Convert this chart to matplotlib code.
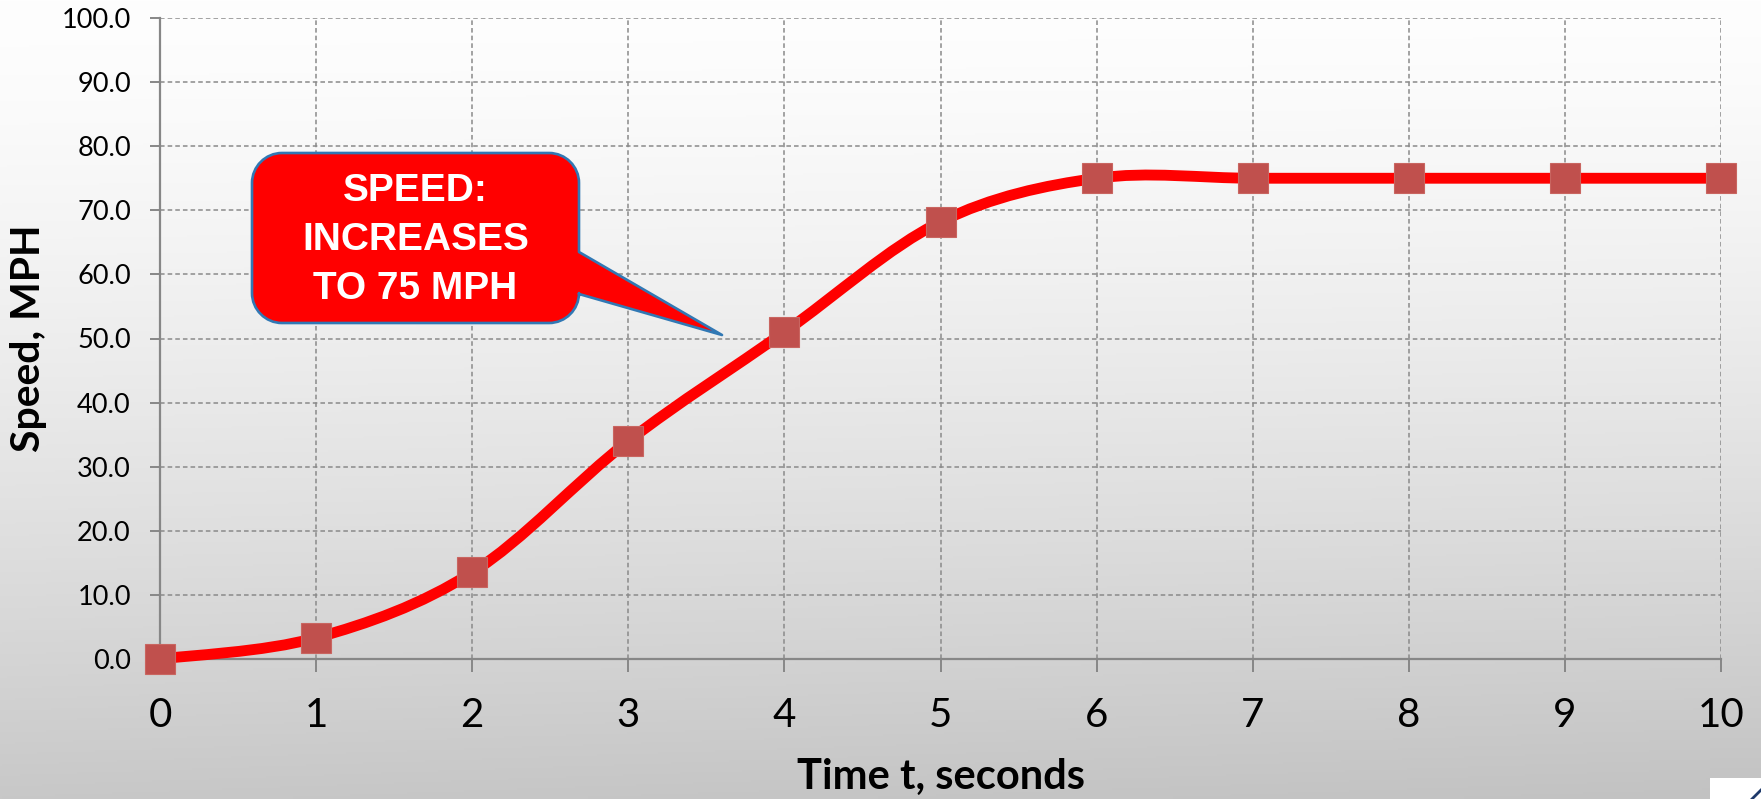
import numpy as np
import matplotlib
matplotlib.use("Agg")
import matplotlib.pyplot as plt
from matplotlib.path import Path
from matplotlib.patches import PathPatch, Rectangle
from matplotlib.transforms import Affine2D

# ---- data ----
time_s = [0, 1, 2, 3, 4, 5, 6, 7, 8, 9, 10]
speed_mph = [0.0, 3.3, 13.5, 34.0, 51.0, 68.2, 75.0, 75.0, 75.0, 75.0, 75.0]
x_ticks = [0, 1, 2, 3, 4, 5, 6, 7, 8, 9, 10]
y_ticks = [0, 10, 20, 30, 40, 50, 60, 70, 80, 90, 100]
x_label = "Time t, seconds"
y_label = "Speed, MPH"
callout_text = "SPEED:\nINCREASES\nTO 75 MPH"

W, H = 1761, 799
fig = plt.figure(figsize=(W / 100, H / 100), dpi=100)

# background gradient
bg = fig.add_axes([0, 0, 1, 1], zorder=-10)
yy = np.linspace(0, 1, 400)[:, None]
xx = np.linspace(0, 1, 400)[None, :]
val = 254 - 54 * (yy ** 1.4) - 6 * xx * yy
bg.imshow(np.dstack([val, val, val]).astype(np.uint8), aspect="auto",
          extent=[0, 1, 0, 1], origin="upper")
bg.axis("off")

ax = fig.add_axes([160 / W, 1 - 659 / H, (1721 - 160) / W, (659 - 18) / H])
ax.patch.set_alpha(0)

ax.set_xlim(0, 10)
ax.set_ylim(0, 100)
ax.set_xticks(x_ticks)
ax.set_yticks(y_ticks)
ax.set_yticklabels([f"{v:.1f}" for v in y_ticks])

gridc = "#8a8a8a"
ax.grid(True, color=gridc, linestyle=(0, (3, 2)), linewidth=1.1, zorder=0)
ax.set_axisbelow(True)
for s in ["top", "right"]:
    ax.spines[s].set_visible(False)
for s in ["left", "bottom"]:
    ax.spines[s].set_color("#878787")
    ax.spines[s].set_linewidth(1.6)

ax.tick_params(axis="x", length=9.5, width=1.4, color="#878787",
               labelsize=29, pad=18, direction="out")
ax.tick_params(axis="y", length=7, width=1.4, color="#878787",
               labelsize=19.5, pad=14, direction="out")
for lab in ax.get_xticklabels() + ax.get_yticklabels():
    lab.set_fontfamily("Lato")

fig.text(941 / W, 1 - 777 / H, x_label, ha="center", va="center",
         fontsize=30, fontweight="bold", family="Lato")
fig.text(29 / W, 1 - 338 / H, y_label, ha="center", va="center", rotation=90,
         fontsize=29.5, fontweight="bold", family="Lato")

# smoothed line (cubic Bezier segments through data points)
P = np.column_stack([time_s, speed_mph]).astype(float)
n = len(P)
verts = [P[0]]
codes = [Path.MOVETO]
for i in range(n - 1):
    p0 = P[i - 1] if i > 0 else P[i]
    p1 = P[i]
    p2 = P[i + 1]
    p3 = P[i + 2] if i + 2 < n else P[i + 1]
    c1 = p1 + (p2 - p0) / 6.0
    c2 = p2 - (p3 - p1) / 6.0
    verts += [c1, c2, p2]
    codes += [Path.CURVE4] * 3
ax.add_patch(PathPatch(Path(verts, codes), fill=False, edgecolor="#ff0000",
                       lw=7.8, capstyle="round", joinstyle="round", zorder=3,
                       clip_on=False))
ax.plot(time_s, speed_mph, linestyle="none", marker="s", markersize=21.5,
        markerfacecolor="#c0504d", markeredgecolor="#c96560", markeredgewidth=0.8,
        zorder=4, clip_on=False)

# callout (pixel coordinates of the image, y downward)
pix = Affine2D().scale(1 / W, -1 / H).translate(0, 1) + fig.transFigure
L, R, T, B, r = 252, 579, 153, 323, 30
k = 0.5523 * r
yb1, yb2 = 252, 294
tip = (722, 335)
cv = [
    (L + r, T), (R - r, T),
    (R - r + k, T), (R, T + r - k), (R, T + r),
    (R, yb1), tip, (R, yb2),
    (R, B - r),
    (R, B - r + k), (R - r + k, B), (R - r, B),
    (L + r, B),
    (L + r - k, B), (L, B - r + k), (L, B - r),
    (L, T + r),
    (L, T + r - k), (L + r - k, T), (L + r, T),
    (L + r, T),
]
cc = [Path.MOVETO, Path.LINETO,
      Path.CURVE4, Path.CURVE4, Path.CURVE4,
      Path.LINETO, Path.LINETO, Path.LINETO,
      Path.LINETO,
      Path.CURVE4, Path.CURVE4, Path.CURVE4,
      Path.LINETO,
      Path.CURVE4, Path.CURVE4, Path.CURVE4,
      Path.LINETO,
      Path.CURVE4, Path.CURVE4, Path.CURVE4,
      Path.CLOSEPOLY]
call = PathPatch(Path(cv, cc), facecolor="#ff0000", edgecolor="#3178b4",
                 lw=1.9, joinstyle="round", transform=pix, zorder=5)
fig.add_artist(call)
fig.text((L + R) / 2 / W, 1 - 240 / H, callout_text, ha="center", va="center",
         color="white", fontsize=28, fontweight="bold",
         family="Liberation Sans", linespacing=1.45, zorder=6)

# small white corner box
fig.add_artist(Rectangle((1710, 778), 60, 30, facecolor="white",
                         edgecolor="none", transform=pix, zorder=7))
fig.add_artist(plt.Line2D([1752, 1761], [799, 790], color="#1f3a6b", lw=2,
                          transform=pix, zorder=8))

fig.savefig("out.png", dpi=100)
